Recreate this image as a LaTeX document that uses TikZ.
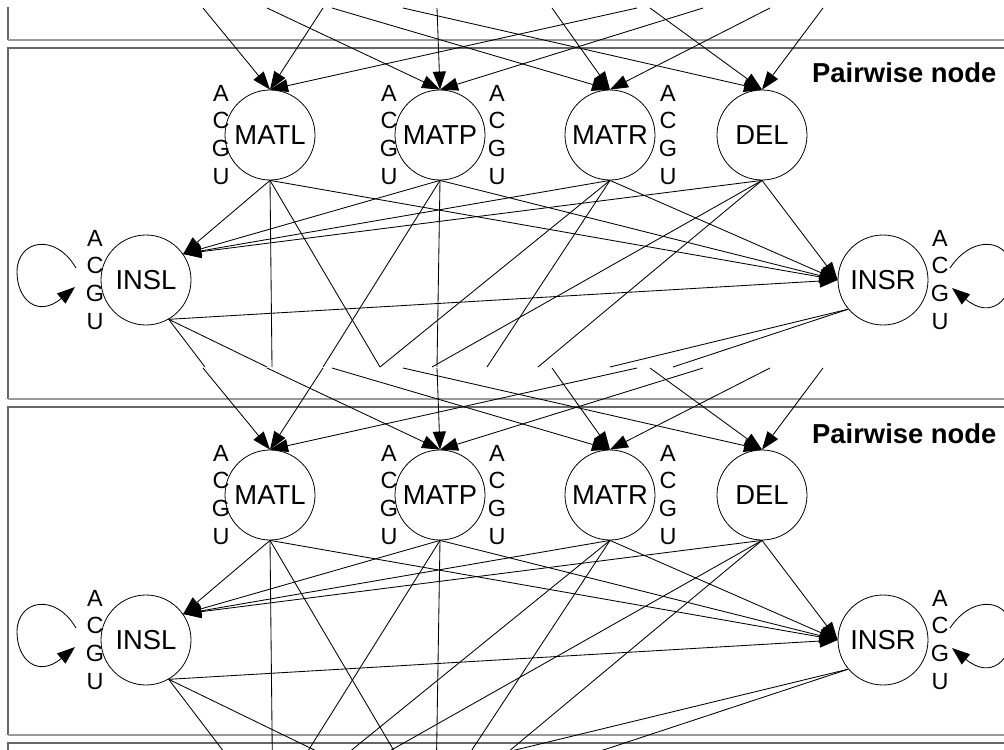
\documentclass[tikz,border=0pt]{standalone}
\usepackage{fontspec}
\setmainfont{Liberation Sans}
\usetikzlibrary{arrows.meta}

\begin{document}
\begin{tikzpicture}[
  x=1bp, y=-1bp,
  >={Triangle[length=18bp,width=13bp]},
  state/.style={circle, draw=black, line width=0.8bp, minimum size=90bp, inner sep=0pt, font=\fontsize{27.5}{30}\selectfont},
  emit/.style={align=center, inner sep=0pt, font=\fontsize{23.5}{28}\selectfont},
  edge/.style={draw=black, line width=0.85bp},
  frame/.style={draw=black!60, line width=1.3bp},
  framelow/.style={draw=black!40, line width=1.3bp},
  title/.style={anchor=base west, inner sep=0pt, font=\fontsize{27.5}{30}\selectfont\bfseries}
]
\useasboundingbox (0,0) rectangle (1004,750);
\clip (0,8) rectangle (1004,750);

% node boxes
\draw[frame] (8,-20) -- (8,40);
\draw[framelow] (8,40) -- (1020,40);
\draw[frame] (1020,48) -- (8,48) -- (8,399);
\draw[framelow] (8,399) -- (1020,399);
\draw[frame] (1020,407) -- (8,407) -- (8,735);
\draw[framelow] (8,735) -- (1020,735);
\draw[frame] (1020,743) -- (8,743) -- (8,780);

% two pairwise nodes, one under the other
\foreach \b/\dy/\ext in {1/0/0, 2/360/150}{
  \begin{scope}[shift={(0,\dy)}]
  % states
  \node[state] (matl\b) at (270,135) {MATL};
  \node[state] (matp\b) at (440,135) {MATP};
  \node[state] (matr\b) at (610,135) {MATR};
  \node[state] (del\b)  at (762,135) {DEL};
  \node[state] (insl\b) at (146,280) {INSL};
  \node[state] (insr\b) at (883,280) {INSR};
  \node[title] (pw\b) at (812,83) {Pairwise node};

  % emitted residues
  \node[emit] (matl\b-res)  at (221,135) {A\\C\\G\\U};
  \node[emit] (matp\b-resl) at (389,135) {A\\C\\G\\U};
  \node[emit] (matp\b-resr) at (497,135) {A\\C\\G\\U};
  \node[emit] (matr\b-res)  at (668,135) {A\\C\\G\\U};
  \node[emit] (insl\b-res)  at (95,280) {A\\C\\G\\U};
  \node[emit] (insr\b-res)  at (940,280) {A\\C\\G\\U};

  % arriving from the node above
  \foreach \x/\t in {203/matl,323/matl,637/matl,267/matp,437/matp,703/matp,
                     332/matr,552/matr,770/matr,403/del,650/del,823/del}{
    \coordinate (top\b-\x) at (\x,8);
    \draw[edge,->] (top\b-\x) -- (\t\b.north);
  }

  % into the insert states
  \foreach \s in {matl,matp,matr,del}{
    \draw[edge,->] (\s\b.south) -- (insl\b.35);
    \draw[edge,->] (\s\b.south) -- (insr\b.west);
  }
  \draw[edge,->] (insl\b.-60) -- (insr\b.west);

  % self loops
  \coordinate (insl\b-a) at (76,268);
  \coordinate (insl\b-b) at (75,287);
  \draw[edge,->] (insl\b-a) .. controls (55,232) and (17,240) .. (17,272)
                 .. controls (17,300) and (38,318) .. (insl\b-b);
  \coordinate (insr\b-a) at (950,268);
  \coordinate (insr\b-b) at (952,288);
  \draw[edge,->] (insr\b-a) .. controls (974,232) and (1012,240) .. (1012,272)
                 .. controls (1012,300) and (991,320) .. (insr\b-b);

  % leaving toward the node below
  \foreach \s/\a/\x in {insl/-60/205,insl/-60/267,matl/south/272,matl/south/380,
                        matp/south/323,matp/south/437,matr/south/380,matr/south/487,
                        del/south/432,del/south/538,insr/220/610,insr/220/673}{
    \coordinate (bot\b-\s-\x) at (\x,367);
    \draw[edge, shorten >=-\ext bp] (\s\b.\a) -- (bot\b-\s-\x);
  }
  \end{scope}
}

\end{tikzpicture}
\end{document}
